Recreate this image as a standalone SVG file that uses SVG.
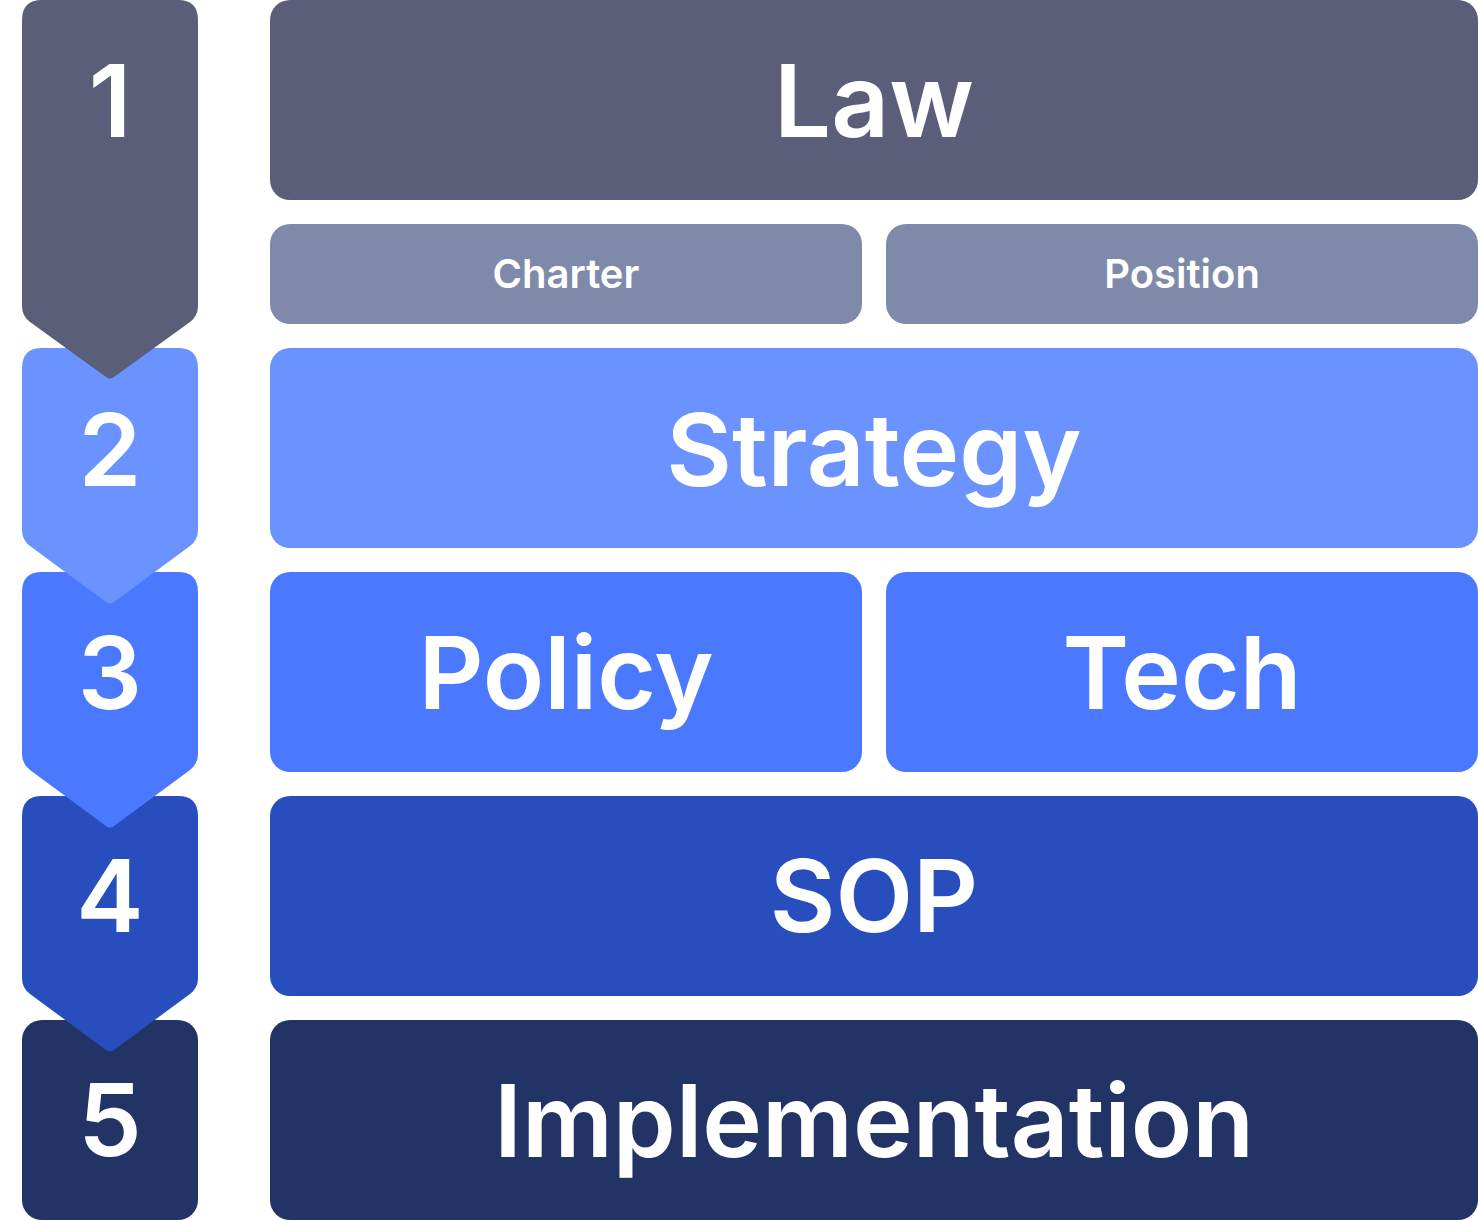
<svg xmlns="http://www.w3.org/2000/svg" width="1478" height="1220" viewBox="0 0 1478 1220">
<style>
text{font-family:Inter,"Noto Sans","Liberation Sans",sans-serif;font-weight:600;fill:#fff;text-anchor:middle}
.big{font-size:101px}
.small{font-size:40px}
.c1{fill:#5A5E78}.c1b{fill:#7F8AAB}.c2{fill:#6B93FF}.c3{fill:#4A78FF}.c4{fill:#284EBE}.c5{fill:#223366}
</style>
<g id="steps">
<g id="step5"><rect class="c5" x="22" y="1020" width="176" height="200" rx="20"/><text class="big" x="110" y="1156">5</text></g>
<g id="step4"><path class="c4" d="M42,796 H178 Q198,796 198,816 V978 Q198,988 190,994 L114,1050 Q110,1053 106,1050 L30,994 Q22,988 22,978 V816 Q22,796 42,796 Z"/><text class="big" x="110" y="932">4</text></g>
<g id="step3"><path class="c3" d="M42,572 H178 Q198,572 198,592 V754 Q198,764 190,770 L114,826 Q110,829 106,826 L30,770 Q22,764 22,754 V592 Q22,572 42,572 Z"/><text class="big" x="110" y="709">3</text></g>
<g id="step2"><path class="c2" d="M42,348 H178 Q198,348 198,368 V530 Q198,540 190,546 L114,602 Q110,605 106,602 L30,546 Q22,540 22,530 V368 Q22,348 42,348 Z"/><text class="big" x="110" y="486">2</text></g>
<g id="step1"><path class="c1" d="M42,0 H178 Q198,0 198,20 V306 Q198,316 190,322 L114,377 Q110,380 106,377 L30,322 Q22,316 22,306 V20 Q22,0 42,0 Z"/><text class="big" x="110" y="137">1</text></g>
</g>
<g id="law"><rect class="c1" x="270" y="0" width="1208" height="200" rx="20"/><text class="big" x="874" y="137">Law</text></g>
<g id="charter"><rect class="c1b" x="270" y="224" width="592" height="100" rx="20"/><text class="small" x="566" y="288">Charter</text></g>
<g id="position"><rect class="c1b" x="886" y="224" width="592" height="100" rx="20"/><text class="small" x="1182" y="288">Position</text></g>
<g id="strategy"><rect class="c2" x="270" y="348" width="1208" height="200" rx="20"/><text class="big" x="874" y="486">Strategy</text></g>
<g id="policy"><rect class="c3" x="270" y="572" width="592" height="200" rx="20"/><text class="big" x="566" y="709">Policy</text></g>
<g id="tech"><rect class="c3" x="886" y="572" width="592" height="200" rx="20"/><text class="big" x="1182" y="709">Tech</text></g>
<g id="sop"><rect class="c4" x="270" y="796" width="1208" height="200" rx="20"/><text class="big" x="874" y="932">SOP</text></g>
<g id="implementation"><rect class="c5" x="270" y="1020" width="1208" height="200" rx="20"/><text class="big" x="874" y="1157">Implementation</text></g>
<g id="connectors"/>
</svg>
